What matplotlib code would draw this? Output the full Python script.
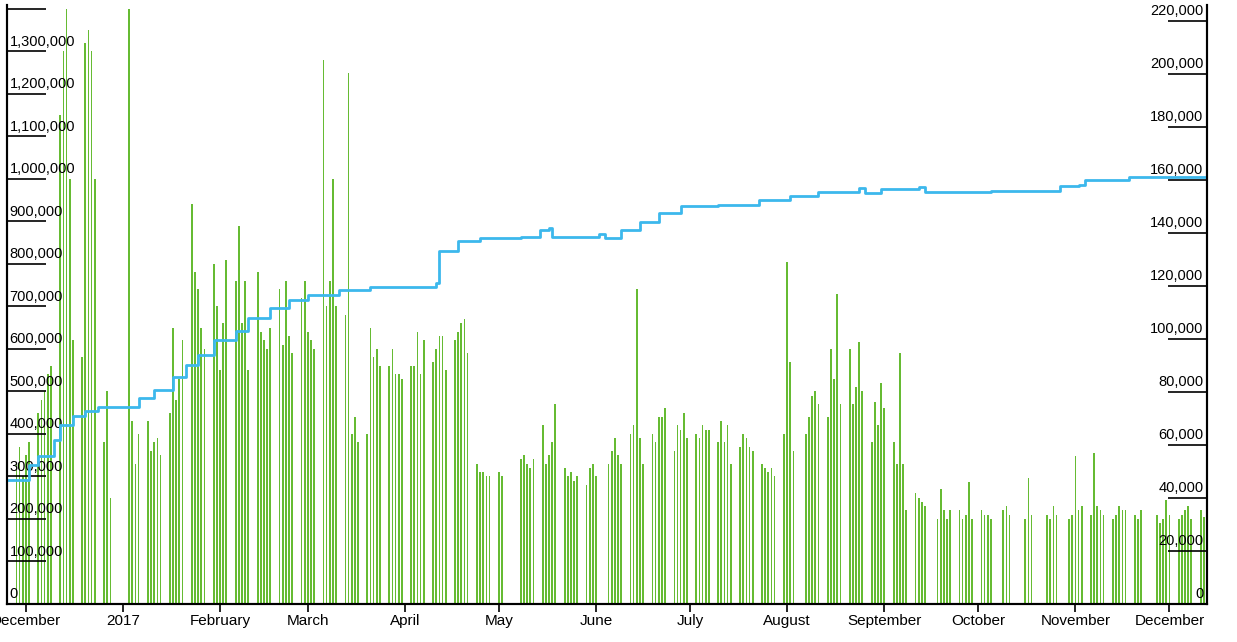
import numpy as np
import pandas as pd
import matplotlib
matplotlib.use("Agg")
import matplotlib.pyplot as plt
from matplotlib.transforms import blended_transform_factory

plt.rcParams["font.family"] = ["Liberation Sans", "DejaVu Sans"]

# daily volume (thousands), weekdays Mon-Fri, weeks starting Mon 2016-11-28
START = pd.Timestamp("2016-11-28")
first_friday = 280  # Fri 2016-11-25
weeks = [
    [330, 370, 300, 350, 380],
    [450, 480, 500, 540, 560],
    [1150, 1300, 1400, 1000, 620],
    [580, 1320, 1350, 1300, 1000],
    [380, 500, 250, 0, 0],
    [0, 1400, 430, 330, 400],
    [430, 360, 380, 390, 350],
    [450, 650, 480, 530, 620],
    [940, 780, 740, 650, 600],
    [800, 700, 550, 660, 810],
    [760, 890, 660, 760, 550],
    [780, 640, 620, 600, 650],
    [740, 610, 760, 630, 590],
    [720, 760, 640, 620, 600],
    [1280, 700, 760, 1000, 700],
    [680, 1250, 400, 440, 380],
    [400, 650, 580, 600, 560],
    [560, 600, 540, 540, 530],
    [560, 560, 640, 540, 620],
    [570, 600, 630, 630, 550],
    [620, 640, 660, 670, 590],
    [330, 310, 310, 300, 300],
    [310, 300, 0, 0, 0],
    [340, 350, 330, 320, 340],
    [420, 330, 350, 380, 470],
    [320, 300, 310, 290, 300],
    [280, 320, 330, 300, 0],
    [330, 360, 390, 350, 330],
    [400, 420, 740, 390, 330],
    [400, 380, 440, 440, 460],
    [360, 420, 410, 450, 390],
    [400, 390, 420, 410, 410],
    [380, 430, 380, 420, 330],
    [370, 400, 390, 370, 360],
    [330, 320, 310, 320, 300],
    [400, 805, 570, 360, 0],
    [400, 440, 490, 500, 470],
    [440, 600, 530, 730, 470],
    [600, 470, 510, 616, 500],
    [380, 475, 420, 520, 460],
    [380, 330, 590, 330, 220],
    [260, 250, 240, 230, 0],
    [200, 270, 220, 200, 220],
    [220, 200, 210, 287, 200],
    [220, 210, 210, 200, 0],
    [220, 230, 210, 0, 0],
    [200, 296, 210, 0, 0],
    [210, 200, 230, 210, 0],
    [200, 210, 348, 220, 230],
    [210, 355, 230, 220, 210],
    [200, 210, 230, 220, 220],
    [210, 200, 220, 0, 0],
    [210, 190, 200, 245, 210],
    [200, 210, 220, 230, 200],
    [220, 205, 0, 0, 0],
]

# cumulative series (right axis, thousands)
line_dates = ["2016-11-25", "2016-12-02", "2016-12-05", "2016-12-10", "2016-12-12",
              "2016-12-16", "2016-12-20", "2016-12-24", "2017-01-03", "2017-01-06",
              "2017-01-11", "2017-01-17", "2017-01-21", "2017-01-25", "2017-01-30",
              "2017-02-06", "2017-02-10", "2017-02-17", "2017-02-23", "2017-03-01",
              "2017-03-11", "2017-03-21", "2017-03-30", "2017-04-11", "2017-04-12",
              "2017-04-18", "2017-04-25", "2017-05-08", "2017-05-14", "2017-05-17",
              "2017-05-18", "2017-06-02", "2017-06-04", "2017-06-09", "2017-06-15",
              "2017-06-21", "2017-06-28", "2017-07-10", "2017-07-23", "2017-08-02",
              "2017-08-11", "2017-08-24", "2017-08-26", "2017-08-31", "2017-09-12",
              "2017-09-14", "2017-10-05", "2017-10-27", "2017-11-02", "2017-11-04",
              "2017-11-18", "2017-12-13"]
line_vals = [46.8, 52.5, 56, 62, 67.5, 71, 73, 74.3, 74.3, 77.7,
             80.7, 85.7, 90, 94, 99.6, 103, 108, 111.7, 114.7, 116.6,
             118.5, 119.6, 119.6, 121, 133, 137, 138, 138.5, 141, 142,
             138.5, 139.6, 138, 141, 144, 147.5, 150, 150.6, 152.5, 154,
             155.5, 157, 155, 156.6, 157.4, 155.5, 155.8, 157.7, 158, 160,
             161, 160.7]

month_ticks = ["2016-12-01", "2017-01-01", "2017-02-01", "2017-03-01", "2017-04-01",
               "2017-05-01", "2017-06-01", "2017-07-01", "2017-08-01", "2017-09-01",
               "2017-10-01", "2017-11-01", "2017-12-01"]
month_labels = ["December", "2017", "February", "March", "April", "May", "June",
                "July", "August", "September", "October", "November", "December"]

days = [pd.Timestamp("2016-11-25")]
vals = [first_friday]
for w, week in enumerate(weeks):
    for d, v in enumerate(week):
        days.append(START + pd.Timedelta(days=7 * w + d))
        vals.append(v)
vals = np.array(vals) * 1000

W, H = 1237, 642
fig = plt.figure(figsize=(W / 100, H / 100), dpi=100)
ax = fig.add_axes([7 / W, 38 / H, 1200 / W, 599 / H])
ax2 = ax.twinx()

ax.bar(days, vals, width=0.55, color="#66bb33", linewidth=0)
ax2.plot(pd.to_datetime(line_dates), np.array(line_vals) * 1000, drawstyle="steps-post",
         color="#3cb8ec", lw=2)

ax.set_xlim(pd.Timestamp("2016-11-25"), pd.Timestamp("2017-12-13"))
ax.set_ylim(0, 1409000)
ax2.set_ylim(0, 226000)

for a in (ax, ax2):
    a.spines["top"].set_visible(False)
    for s in a.spines.values():
        s.set_linewidth(1.5)

ax.set_xticks(pd.to_datetime(month_ticks))
ax.set_xticklabels(month_labels, fontsize=11)
ax.tick_params(axis="x", length=6, width=1.2, pad=1)

# left axis: tick lines pointing inward, labels sitting on top of them
lt = np.arange(0, 1400001, 100000)
ax.set_yticks(lt)
ax.tick_params(axis="y", direction="in", length=28, width=1.2, labelleft=False)
tl = blended_transform_factory(ax.transAxes, ax.transData)
for v in lt[:-1]:
    ax.text(0.002, v + 6000, f"{v:,}", transform=tl, fontsize=10.5, ha="left", va="bottom")

rt = np.arange(0, 220001, 20000)
ax2.set_yticks(rt)
ax2.tick_params(axis="y", direction="in", length=28, width=1.2, labelright=False)
tr = blended_transform_factory(ax2.transAxes, ax2.transData)
for v in rt:
    ax2.text(0.997, v + 1000, f"{v:,}", transform=tr, fontsize=10.5, ha="right", va="bottom")

fig.savefig("out.png", dpi=100)
